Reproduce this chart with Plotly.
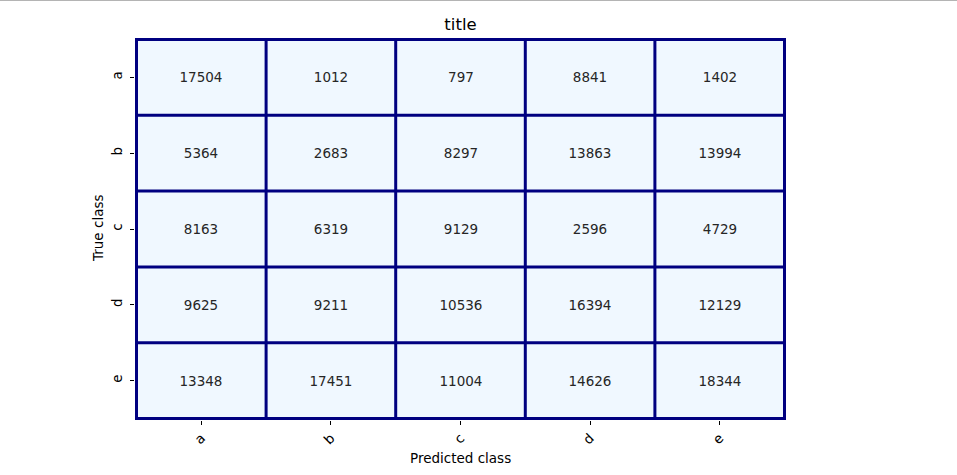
import plotly.graph_objects as go

classes = ["a", "b", "c", "d", "e"]
values = [
    [17504, 1012, 797, 8841, 1402],
    [5364, 2683, 8297, 13863, 13994],
    [8163, 6319, 9129, 2596, 4729],
    [9625, 9211, 10536, 16394, 12129],
    [13348, 17451, 11004, 14626, 18344],
]
title_text = "title"
x_label = "Predicted class"
y_label = "True class"

W, H = 957, 475
L, R, T, B = 135, 171, 38, 55
plot_h = H - T - B
plot_w = W - L - R

FONT = "DejaVu Sans"
fig = go.Figure(go.Heatmap(
    z=values, x=classes, y=classes,
    colorscale=[[0, "#F0F8FF"], [1, "#F0F8FF"]],
    showscale=False,
    text=values, texttemplate="%{text}",
    textfont=dict(family=FONT, size=13.5, color="#262626"),
    hoverinfo="skip",
))

shapes = []
n = len(classes)
for i in range(n + 1):
    shapes.append(dict(type="line", xref="x", yref="y domain", x0=i - 0.5, x1=i - 0.5,
                       y0=0, y1=1, line=dict(color="#000080", width=3)))
    shapes.append(dict(type="line", xref="x domain", yref="y", x0=0, x1=1,
                       y0=i - 0.5, y1=i - 0.5, line=dict(color="#000080", width=3)))
# thin grey line at the very top of the page
shapes.append(dict(type="line", xref="paper", yref="paper",
                   x0=-L / plot_w, x1=(W - L) / plot_w,
                   y0=(plot_h + T - 0.5) / plot_h, y1=(plot_h + T - 0.5) / plot_h,
                   line=dict(color="#b4b4b4", width=1)))

fig.update_layout(
    width=W, height=H,
    margin=dict(l=L, r=R, t=T, b=B, autoexpand=False),
    paper_bgcolor="white", plot_bgcolor="white",
    font=dict(family=FONT, size=13.5, color="black"),
    title=dict(text=title_text, x=0.5, xref="paper", y=1 - 24 / H, yref="container",
               yanchor="middle", xanchor="center", font=dict(size=16.5, color="black")),
    shapes=shapes,
    annotations=[
        dict(text=x_label, xref="paper", yref="paper", x=0.5, y=-(458 - (H - B)) / plot_h,
             showarrow=False, xanchor="center", yanchor="middle", font=dict(size=13.5)),
        dict(text=y_label, xref="paper", yref="paper", x=(98 - L) / plot_w, y=0.5,
             showarrow=False, xanchor="center", yanchor="middle", textangle=-90,
             font=dict(size=13.5)),
    ],
)
fig.update_xaxes(ticks="outside", ticklen=4, tickcolor="black", tickangle=-45,
                 showgrid=False, zeroline=False, showline=False, fixedrange=True,
                 tickfont=dict(size=13.5, color="black"))
fig.update_yaxes(ticks="outside", ticklen=4, tickcolor="black", tickangle=-90,
                 ticklabelstandoff=3,
                 autorange="reversed", showgrid=False, zeroline=False, showline=False,
                 fixedrange=True, tickfont=dict(size=13.5, color="black"))

fig.write_html("out.html")
